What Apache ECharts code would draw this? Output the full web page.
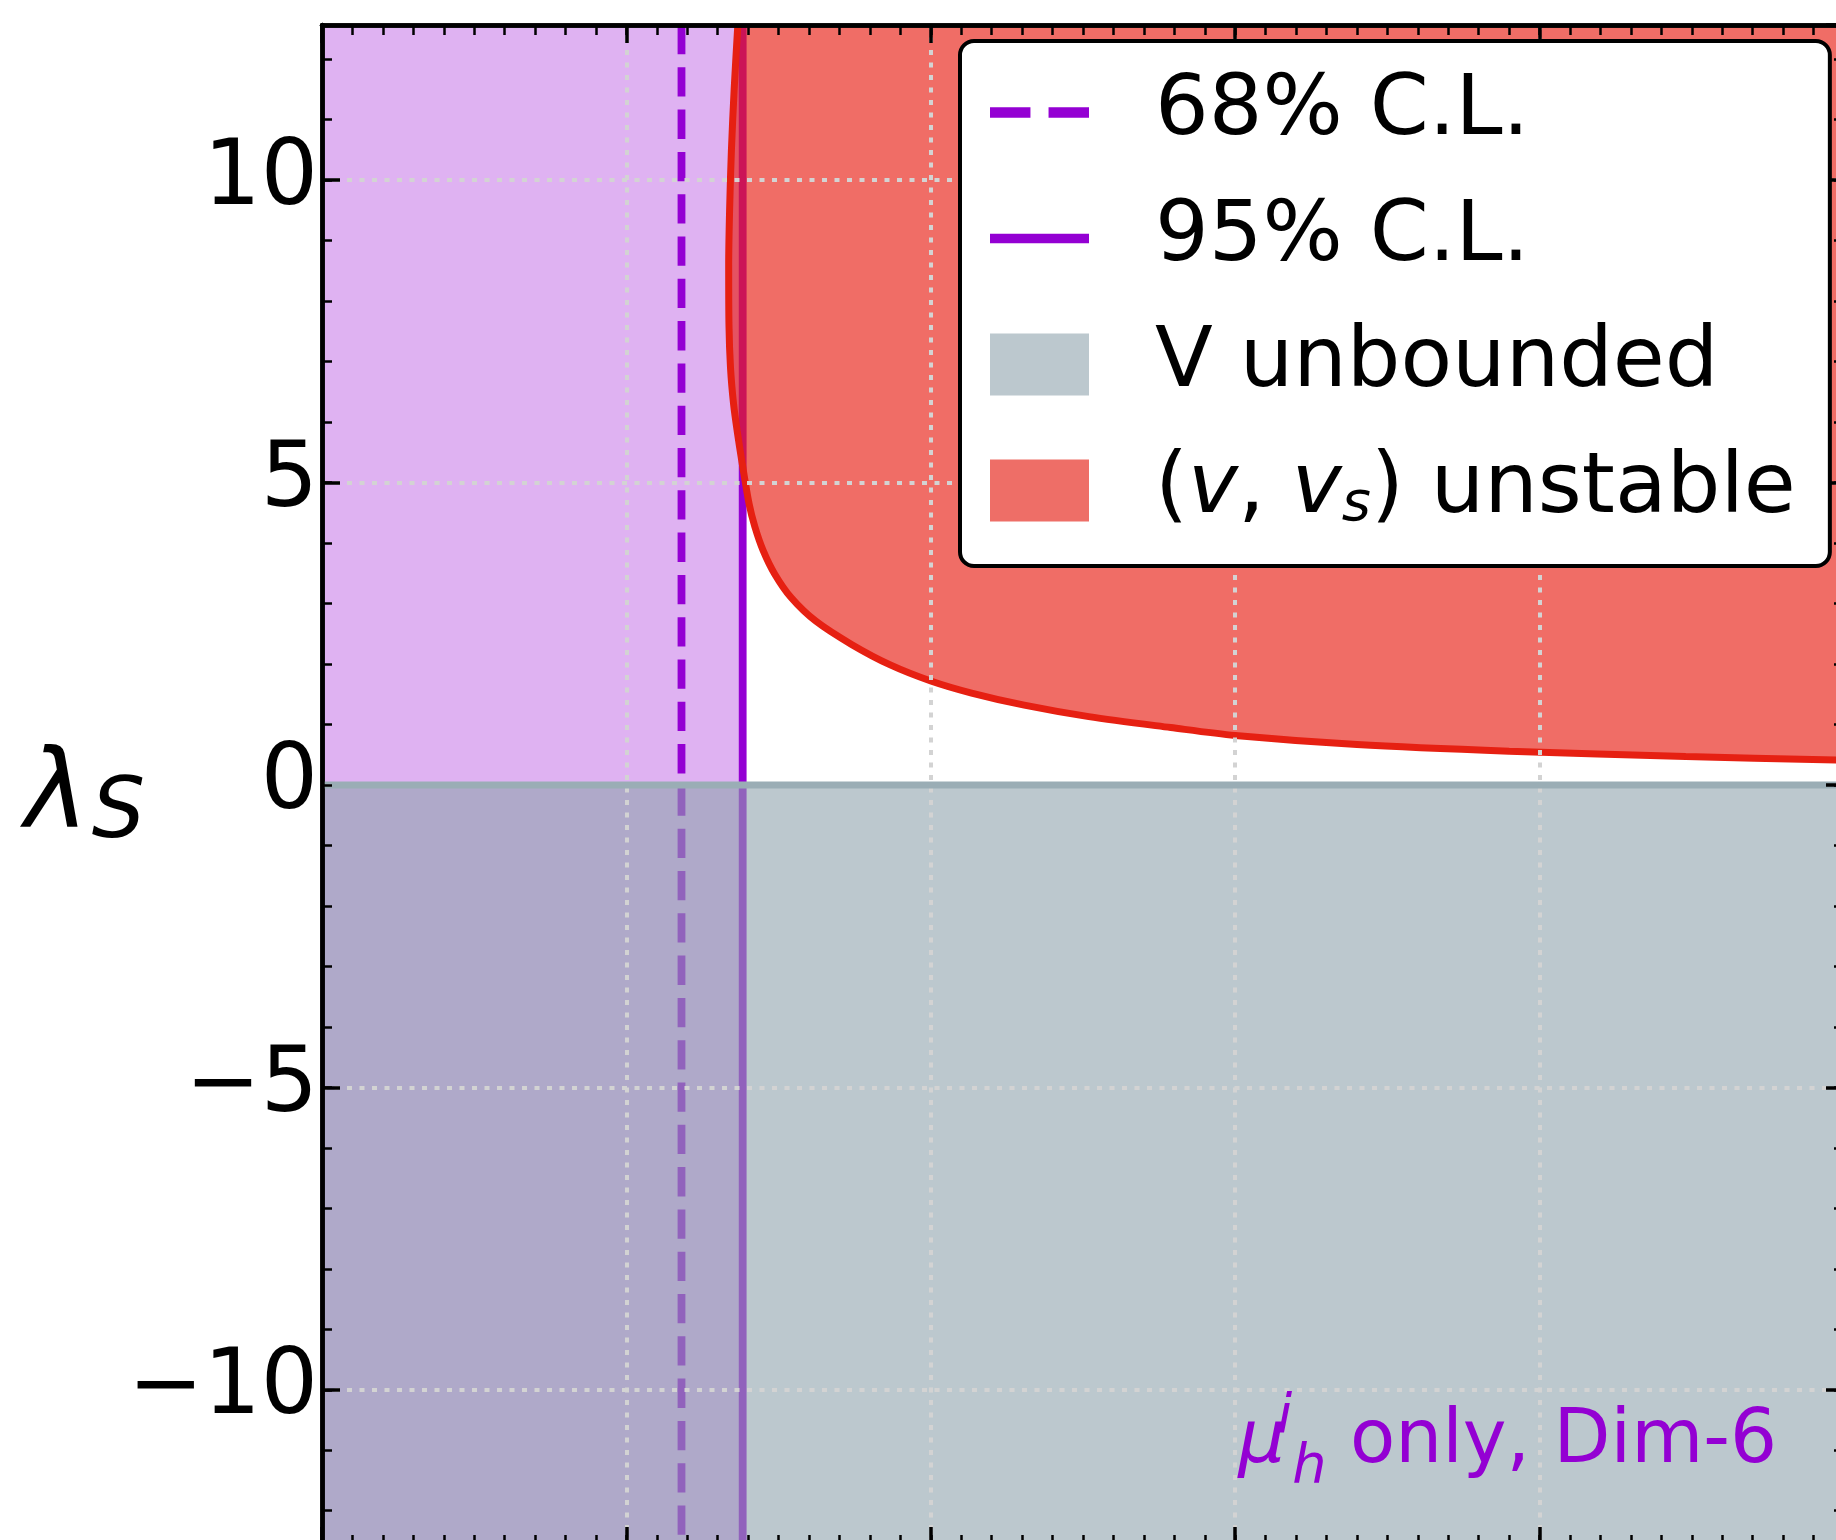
<!DOCTYPE html>
<html><head><meta charset="utf-8">
<script src="https://cdn.jsdelivr.net/npm/echarts@6/dist/echarts.min.js"></script>
<style>html,body{margin:0;padding:0;background:#fff}#c{width:1836px;height:1540px}</style>
</head><body><div id="c"></div>
<script>
// ---- data ----
const xRange = [0, 5];
const yRange = [-4 * Math.PI, 4 * Math.PI];
const cl68X = 1.181;          // 68% C.L. bound
const cl95X = 1.382;          // 95% C.L. bound
const unboundedEdgeY = 0;     // lambda_S = 0 : V unbounded below
const curveX = [1.366, 1.354, 1.345, 1.339, 1.336, 1.337, 1.342, 1.352, 1.364, 1.380, 1.403, 1.422, 1.449, 1.487, 1.541, 1.622, 1.741, 1.865, 2.0, 2.134, 2.307, 2.519, 2.788, 3.0, 3.4, 3.9, 4.48, 5.0];
const curveY = [12.566, 11.5, 10.5, 9.5, 8.6, 7.6, 6.9, 6.3, 5.85, 5.33, 4.65, 4.27, 3.88, 3.49, 3.10, 2.71, 2.32, 1.99, 1.72, 1.52, 1.32, 1.13, 0.95, 0.82, 0.67, 0.56, 0.47, 0.41];
const legendNames = ['68% C.L.', '95% C.L.', 'V unbounded', '(v, v_s) unstable'];
const annotation = '{mu|μ}{sup|i}{sub|h} only, Dim-6';

// ---- chart ----
const FONT = "'DejaVu Sans', sans-serif";
const VIOLET = '#9400D3';
const chart = echarts.init(document.getElementById('c'), null, {renderer: 'canvas'});

const gridLine = {show: true, showMinLine: false, showMaxLine: false,
  lineStyle: {color: '#d3d3d3', width: 4, type: [5, 7.5]}};
const minusFmt = v => (v < 0 ? '\u2212' + Math.abs(v) : String(v));

function axisBase(extra, major) {
  return Object.assign({
    type: 'value', silent: true,
    axisLine: {show: true, onZero: false, lineStyle: {color: '#000', width: 4.5}},
    axisTick: {show: true, inside: true, length: major ? 18 : 10, lineStyle: {color: '#000', width: major ? 3.5 : 2.5}},
    axisLabel: {show: false},
    splitLine: {show: false},
    minorTick: {show: false}
  }, extra);
}

chart.setOption({
  animation: false,
  backgroundColor: '#fff',
  grid: {left: 322, top: 25, width: 1522, height: 1520, containLabel: false, outerBoundsMode: 'none'},
  xAxis: [
    axisBase({min: xRange[0], max: xRange[1], interval: 1, position: 'bottom', z: 10, splitLine: gridLine}, true),
    axisBase({min: xRange[0], max: xRange[1], interval: 1, position: 'top', z: 12}, true),
    axisBase({min: xRange[0], max: xRange[1], interval: 0.1, position: 'bottom', z: 12}, false),
    axisBase({min: xRange[0], max: xRange[1], interval: 0.1, position: 'top', z: 12}, false)
  ],
  yAxis: [
    axisBase({min: yRange[0], max: yRange[1], splitNumber: 5, position: 'left', z: 11,
      axisLabel: {show: true, showMinLabel: false, showMaxLabel: false, formatter: minusFmt, margin: 4,
        fontSize: 90, fontFamily: FONT, color: '#000', padding: [27, 0, 0, 0]},
      splitLine: gridLine,
      name: '{l|λ}{s|S}', nameLocation: 'middle', nameRotate: 0, nameGap: 177, nameMoveOverlap: false,
      nameTextStyle: {padding: [28, 0, 0, 0], align: 'right', rich: {
        l: {fontSize: 108, fontStyle: 'italic', fontFamily: FONT, color: '#000', lineHeight: 116, padding: [0, 3, 0, 0]},
        s: {fontSize: 84, fontStyle: 'italic', fontFamily: FONT, color: '#000', lineHeight: 80, verticalAlign: 'bottom'}
      }}}, true),
    axisBase({min: yRange[0], max: yRange[1], splitNumber: 5, position: 'right', z: 12}, true),
    axisBase({min: yRange[0], max: yRange[1], splitNumber: 25, position: 'left', z: 12}, false),
    axisBase({min: yRange[0], max: yRange[1], splitNumber: 25, position: 'right', z: 12}, false)
  ],
  legend: {
    orient: 'vertical', left: 960, top: 41, z: 20,
    data: [
      {name: legendNames[0], icon: 'path://M0,0h38v10h-38zM55,0h38v10h-38z', itemStyle: {color: VIOLET, borderWidth: 0}},
      {name: legendNames[1], icon: 'path://M0,0h104v10h-104z', itemStyle: {color: VIOLET, borderWidth: 0}},
      {name: legendNames[2], icon: 'rect', itemStyle: {color: '#BCC8CE', borderWidth: 0}},
      {name: legendNames[3], icon: 'rect', itemStyle: {color: '#EE6E67', borderWidth: 0}}
    ],
    itemWidth: 99, itemHeight: 62, itemGap: 41,
    padding: [29, 34, 33, 30],
    backgroundColor: '#fff', borderColor: '#000', borderWidth: 4, borderRadius: 14,
    selectedMode: false,
    formatter: name => (name === legendNames[3] ? '({it|v}, {it|v}{sub|s}) unstable' : name),
    textStyle: {fontSize: 84.5, fontFamily: FONT, color: '#000', lineHeight: 85, padding: [0, 0, 0, 61],
      rich: {
        it: {fontSize: 84.5, fontStyle: 'italic', fontFamily: FONT, color: '#000', lineHeight: 85},
        sub: {fontSize: 56, fontStyle: 'italic', fontFamily: FONT, color: '#000', lineHeight: 56, verticalAlign: 'bottom'}
      }}
  },
  graphic: [{
    type: 'text', z: 20, x: 1777, y: 1443,
    style: {text: annotation, align: 'right', verticalAlign: 'middle', fill: VIOLET,
      fontSize: 74, fontFamily: FONT,
      rich: {
        mu: {fontSize: 74, fontStyle: 'italic', fontFamily: FONT, fill: VIOLET, lineHeight: 104, padding: [0, 4, 0, 0]},
        sup: {fontSize: 54, fontStyle: 'italic', fontFamily: FONT, fill: VIOLET, lineHeight: 44, verticalAlign: 'top', width: 3},
        sub: {fontSize: 54, fontStyle: 'italic', fontFamily: FONT, fill: VIOLET, lineHeight: 66, verticalAlign: 'bottom'}
      }}
  }],
  series: [
    {name: 'excluded95', type: 'line', silent: true, z: 1, symbol: 'none',
      data: [[xRange[0], yRange[1]], [cl95X, yRange[1]]],
      lineStyle: {width: 0}, areaStyle: {color: 'rgba(148,0,211,0.3)', origin: 'start', opacity: 1}},
    {name: legendNames[0], type: 'line', silent: true, z: 2, symbol: 'none',
      data: [[cl68X, yRange[1]], [cl68X, yRange[0]]],
      lineStyle: {color: VIOLET, width: 7.8, type: [29.3, 13]}},
    {name: legendNames[1], type: 'line', silent: true, z: 2, symbol: 'none',
      data: [[cl95X, yRange[1]], [cl95X, yRange[0]]],
      lineStyle: {color: VIOLET, width: 7.8}},
    {name: legendNames[3], type: 'line', silent: true, z: 3, symbol: 'none', smooth: 0.3,
      data: curveX.map((x, i) => [x, curveY[i]]),
      lineStyle: {color: '#E62012', width: 7},
      areaStyle: {color: 'rgba(232,30,20,0.65)', origin: 'end', opacity: 1}},
    {name: legendNames[2], type: 'line', silent: true, z: 4, symbol: 'none',
      data: [[xRange[0], unboundedEdgeY], [xRange[1], unboundedEdgeY]],
      lineStyle: {width: 0},
      areaStyle: {color: 'rgba(143,163,173,0.6)', origin: 'start', opacity: 1}},
    {name: 'unboundedEdge', type: 'line', silent: true, z: 11.5, symbol: 'none',
      data: [[xRange[0], unboundedEdgeY], [xRange[1], unboundedEdgeY]],
      lineStyle: {color: '#9AADB5', width: 7}}
  ]
});
</script></body></html>
